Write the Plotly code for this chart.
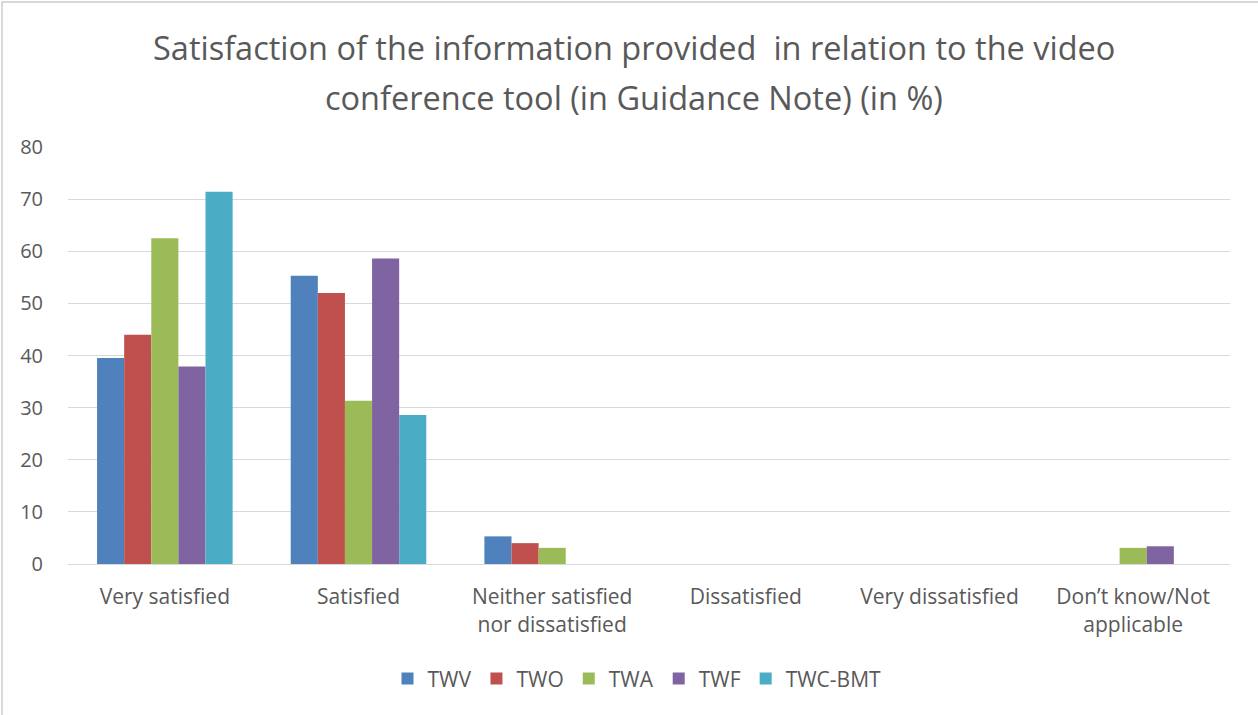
import plotly.graph_objects as go

categories = ["Very satisfied", "Satisfied", "Neither satisfied<br>nor dissatisfied",
              "Dissatisfied", "Very dissatisfied", "Don’t know/Not<br>applicable"]
series_names = ["TWV", "TWO", "TWA", "TWF", "TWC-BMT"]
twv = [39.5, 55.3, 5.3, 0, 0, 0]
two = [44.0, 52.0, 4.0, 0, 0, 0]
twa = [62.5, 31.3, 3.1, 0, 0, 3.1]
twf = [37.9, 58.6, 0, 0, 0, 3.4]
twc = [71.4, 28.6, 0, 0, 0, 0]
title_lines = ["Satisfaction of the information provided  in relation to the video",
               "conference tool (in Guidance Note) (in %)"]
colors = ["#4F81BD", "#C0504D", "#9BBB59", "#8064A2", "#4BACC6"]

fig = go.Figure()
for name, vals, col in zip(series_names, [twv, two, twa, twf, twc], colors):
    fig.add_trace(go.Bar(name=name, x=categories, y=vals, marker_color=col,
                         marker_line_width=0))

font_family = "Open Sans, Liberation Sans, sans-serif"
W, H = 1258, 715
L, T = 68, 147
PW, PH = 1162, 417
fig.update_layout(
    width=W, height=H,
    paper_bgcolor="white", plot_bgcolor="white",
    margin=dict(l=L, r=W - L - PW, t=T, b=H - T - PH, autoexpand=False),
    barmode="group", bargap=0.30, bargroupgap=0,
    font=dict(family=font_family, color="#595959", size=19),
    legend=dict(orientation="h", x=0.5 - 12 / PW, xanchor="center", y=-0.226, yanchor="top",
                font=dict(size=21, color="#595959"), traceorder="normal",
                itemwidth=30),
    showlegend=True,
)
# title as two centred lines, positioned in container pixels
for i, line in enumerate(title_lines):
    fig.add_annotation(text=line, xref="paper", yref="paper", x=0.5 + (634 - (L + PW / 2)) / PW,
                       y=1 + (T - (48 + 49 * i)) / PH, xanchor="center", yanchor="middle",
                       showarrow=False, font=dict(family=font_family, size=32.5, color="#595959"))
fig.update_yaxes(range=[0, 80], dtick=10, showgrid=True, gridcolor="#D9D9D9", gridwidth=1,
                 zeroline=False, showline=False, ticks="", tickfont=dict(size=20, color="#595959"),
                 ticklabelstandoff=24)
fig.update_xaxes(showline=True, linecolor="#D9D9D9", linewidth=1, ticks="",
                 tickfont=dict(size=21, color="#595959"), ticklabelstandoff=14)
fig.add_shape(type="rect", xref="paper", yref="paper",
              x0=(2 - L) / PW, x1=(W - L + 2) / PW,
              y0=-(H - T - PH + 2) / PH, y1=1 + (T - 2) / PH,
              line=dict(color="#D9D9D9", width=2), fillcolor="rgba(0,0,0,0)", layer="below")
fig.write_html("out.html", config={"displayModeBar": False},
               post_script="document.body.style.margin='0';")
